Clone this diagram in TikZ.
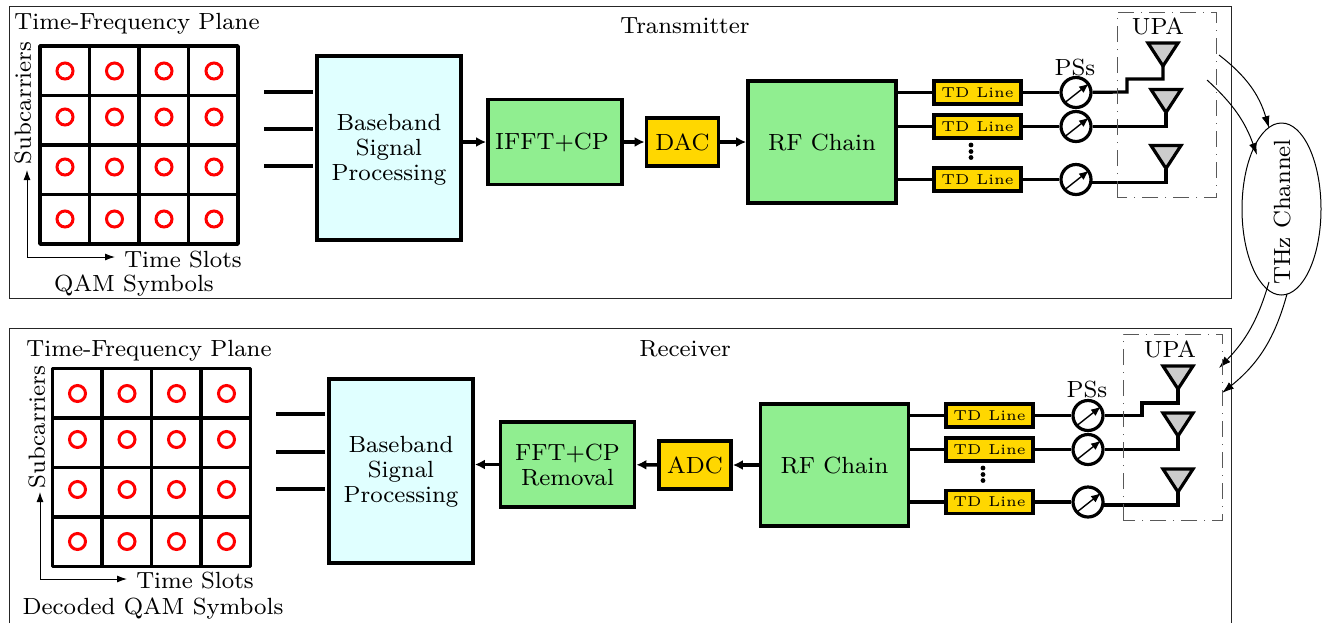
\documentclass[tikz,border=0pt]{standalone}
\usepackage{fontspec}
\newfontfamily\widefont{lmroman8-regular.otf}
\newfontfamily\tdfont{lmroman5-regular.otf}
\usetikzlibrary{arrows.meta,shapes.geometric,calc}
\definecolor{bbcol}{HTML}{E0FFFF}
\definecolor{grcol}{HTML}{90EE90}
\definecolor{gdcol}{HTML}{FFD700}
\definecolor{ancol}{HTML}{CCCCCC}
\tikzset{
  x=0.5pt,y=-0.5pt,
  frame/.style={draw=black!85,line width=0.5pt},
  blk/.style={draw=black,line width=1.9pt,inner sep=0pt,align=center,font=\widefont\fontsize{11.7}{12.5}\selectfont},
  bbbox/.style={blk,fill=bbcol,minimum width=72pt,minimum height=92pt},
  ofdm/.style={blk,fill=grcol,minimum width=67pt,minimum height=42.5pt},
  conv/.style={blk,fill=gdcol,minimum width=36pt,minimum height=24pt},
  rfbox/.style={blk,fill=grcol,minimum width=74pt,minimum height=61pt},
  tdbox/.style={draw=black,line width=1.9pt,fill=gdcol,inner sep=0pt,minimum width=43.5pt,minimum height=11.5pt,font=\tdfont\fontsize{7.2}{8}\selectfont},
  psbox/.style={circle,draw=black,line width=1.6pt,fill=white,minimum size=15pt,inner sep=0pt},
  ant/.style={draw=black,line width=1.6pt,fill=ancol,line join=miter},
  wire/.style={draw=black,line width=1.6pt},
  flow/.style={draw=black,line width=1.8pt,-{Latex[length=5pt,width=5pt]}},
  axisline/.style={draw=black,line width=0.5pt},
  chan/.style={draw=black,line width=0.5pt,-{Latex[length=6pt,width=4pt]}},
  upa/.style={draw=black!65,line width=0.5pt,dash pattern=on 8pt off 3.5pt on 0.5pt off 3.5pt},
  lbl/.style={inner sep=0pt,font=\widefont\fontsize{11.7}{12.5}\selectfont},
  grid line/.style={draw=black,line width=1.9pt},
  sym/.style={draw=red,line width=1.5pt}
}
\newcommand{\tfgrid}[2]{%
  \draw[grid line,line join=round] (#1,#2) rectangle ++(198,198);
  \foreach \k in {1,2,3}{
    \draw[grid line] ($(#1,#2)+(49.5*\k,0)$) -- ++(0,198);
    \draw[grid line] ($(#1,#2)+(0,49.5*\k)$) -- ++(198,0);
  }
  \foreach \cx in {25,74.5,124,174}{\foreach \cy in {25,71,121,173}{
    \draw[sym] ($(#1,#2)+(\cx,\cy)$) circle (4pt);
  }}
}
\begin{document}
\begin{tikzpicture}
\useasboundingbox (0,0) rectangle (1328,623);
% frames
\draw[frame] (9,6) rectangle (1231,298);
\draw[frame] (9,623) -- (9,328) -- (1231,328) -- (1231,623);
% ---------- Transmitter
\node[lbl] (t1) at (685,26) {Transmitter};
\node[lbl] (t2) at (137,24) {Time-Frequency Plane};
\tfgrid{40}{46}
\node[lbl,rotate=90] (t3) at (23,103) {Subcarriers};
\node[lbl] (t4) at (183,259) {Time Slots};
\node[lbl] (t5) at (134,285.5) {QAM Symbols};
\coordinate (ta) at (27,170); \coordinate (tb) at (27,257); \coordinate (tc) at (115,257);
\draw[axisline,{Latex[length=5pt,width=3.5pt]}-{Latex[length=5pt,width=3.5pt]}] (ta) -- (tb) -- (tc);
\node[bbbox] (tbb) at (389,148) {\rule{0pt}{10pt}Baseband\\Signal\\Processing};
\foreach \y/\n in {92/a,129/b,166/c}{
  \coordinate (ts\n) at (264,\y);
  \draw[wire] (ts\n) -- (313,\y);
}
\node[ofdm] (tif) at (555,142) {IFFT+CP\hspace*{3pt}};
\node[conv] (tda) at (682.5,142) {DAC};
\node[rfbox] (trf) at (822,142) {RF Chain};
\draw[flow] (tbb.east |- tif) -- (tif);
\draw[flow] (tif) -- (tda);
\draw[flow] (tda) -- (trf);
\foreach \y/\n in {92.5/a,126.5/b,179.5/c}{
  \node[tdbox] (ttd\n) at (977.5,\y) {TD Line};
  \draw[wire] (trf.east |- ttd\n) -- (ttd\n);
  \node[psbox] (tps\n) at (1076,\y) {};
  \draw[wire] (ttd\n) -- (tps\n);
  \draw[line width=0.7pt,-{Latex[length=5pt,width=4pt]}] ($(tps\n)+(-11,10)$) -- ($(tps\n)+(13,-9)$);
}
\node[lbl] (tpl) at (1075,67) {PSs};
\foreach \x/\y/\n in {1163/43/a,1166/89.5/b,1166/145.5/c}{
  \draw[ant] (\x-15,\y) -- (\x+15,\y) -- (\x,\y+23) -- cycle;
  \coordinate (tan\n) at (\x,\y+23);
}
\draw[wire,line join=miter] (tana) -- ++(0,13) -| (1127,92) -- (tpsa);
\draw[wire,line join=miter] (tanb) |- (tpsb);
\draw[wire,line join=miter] (tanc) -- (1166,182.5) -- ($(tpsc)+(15,3)$);
\foreach \y in {145,151.5,157.5}{\fill (971,\y) circle (1.2pt);}
\draw[upa] (1117,197) -- (1117,12) -- (1216,12) -- (1216,197) -- cycle;
\node[lbl] (tup) at (1158,26) {UPA};
% ---------- Channel
\node[draw=black,line width=0.5pt,ellipse,minimum width=39.5pt,minimum height=86pt,inner sep=0pt] (ch) at (1281.5,209) {};
\node[lbl,rotate=90] (chl) at (1282,212) {THz Channel};
\coordinate (ca) at (1219,55);
\coordinate (cb) at (1207,80);
\coordinate (cc) at (1269,282);
\coordinate (cd) at (1287,294);
\coordinate (ce) at (1219,368);
\coordinate (cf) at (1222,393);
\draw[chan] (ca) to[bend left=18] (1269,128);
\draw[chan] (cb) to[bend left=14] (1257,155);
\draw[chan] (cc) to[bend left=14] (ce);
\draw[chan] (cd) to[bend left=18] (cf);
% ---------- Receiver
\node[lbl] (r1) at (685,349) {Receiver};
\node[lbl] (r2) at (149,350.5) {Time-Frequency Plane};
\tfgrid{52.5}{368.5}
\node[lbl,rotate=90] (r3) at (37,427) {Subcarriers};
\node[lbl] (r4) at (195,580) {Time Slots};
\node[lbl] (r5) at (153,608.5) {Decoded QAM Symbols};
\coordinate (ra) at (40,492); \coordinate (rb) at (40,579); \coordinate (rc) at (127,579);
\draw[axisline,{Latex[length=5pt,width=3.5pt]}-{Latex[length=5pt,width=3.5pt]}] (ra) -- (rb) -- (rc);
\node[bbbox] (rbb) at (401,471) {\rule{0pt}{9pt}Baseband\\Signal\\Processing};
\foreach \y/\n in {414/a,452/b,489/c}{
  \coordinate (rs\n) at (276,\y);
  \draw[wire] (rs\n) -- (325,\y);
}
\node[ofdm] (rff) at (567.5,464.5) {FFT+CP\\Removal};
\node[conv] (rad) at (695,465) {ADC};
\node[rfbox] (rrf) at (834.5,465) {RF Chain};
\draw[flow] (rrf) -- (rad);
\draw[flow] (rad) -- (rff);
\draw[flow] (rff) -- (rbb.east |- rff);
\foreach \y/\n in {415.5/a,449.5/b,502/c}{
  \node[tdbox] (rtd\n) at (989.5,\y) {TD Line};
  \draw[wire] (rrf.east |- rtd\n) -- (rtd\n);
  \node[psbox] (rps\n) at (1088,\y) {};
  \draw[wire] (rtd\n) -- (rps\n);
  \draw[line width=0.7pt,-{Latex[length=5pt,width=4pt]}] ($(rps\n)+(-11,10)$) -- ($(rps\n)+(13,-9)$);
}
\node[lbl] (rpl) at (1087,389) {PSs};
\foreach \x/\y/\n in {1178/366/a,1178/413/b,1178/469/c}{
  \draw[ant] (\x-15,\y) -- (\x+15,\y) -- (\x,\y+23) -- cycle;
  \coordinate (ran\n) at (\x,\y+23);
}
\draw[wire,line join=miter] (rana) -- ++(0,14) -| (1142,415.5) -- (rpsa);
\draw[wire,line join=miter] (ranb) |- (rpsb);
\draw[wire,line join=miter] (ranc) -- (1178,505) -- ($(rpsc)+(15,3)$);
\foreach \y in {468,474.5,480.5}{\fill (983,\y) circle (1.2pt);}
\draw[upa] (1123,520) -- (1123,334) -- (1222,334) -- (1222,520) -- cycle;
\node[lbl] (rup) at (1170,349) {UPA};
\end{tikzpicture}
\end{document}
